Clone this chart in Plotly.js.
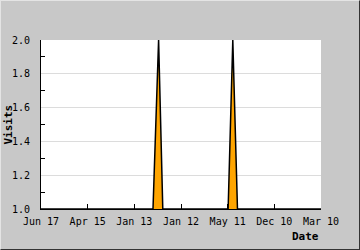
<!DOCTYPE html>
<html>
<head>
<meta charset="utf-8">
<script src="https://cdn.plot.ly/plotly-3.0.1.min.js"></script>
<style>
html, body { margin: 0; padding: 0; background: #c8c8c8; }
#wrap { position: relative; width: 360px; height: 250px; }
#chart { width: 360px; height: 250px; }
#frame { position: absolute; left: 0; top: 0; width: 360px; height: 250px; box-sizing: border-box;
  border-top: 1px solid #e4e4e4; border-left: 1px solid #e4e4e4;
  border-bottom: 1px solid #333; border-right: 1px solid #333; pointer-events: none; }
</style>
</head>
<body>
<div id="wrap"><div id="chart"></div><div id="frame"></div></div>
<script>
// Tick labels (dates) along the x axis, in axis order
var dateLabels = ['Jun 17', 'Apr 15', 'Jan 13', 'Jan 12', 'May 11', 'Dec 10', 'Mar 10'];
var datePos = [0, 1, 2, 3, 4, 5, 6];
// Visits series (x in date-axis units)
var xVals = [0, 2.40, 2.52, 2.61, 4.01, 4.11, 4.21, 6];
var visits = [1, 1, 2, 1, 1, 2, 1, 1];

var mono = 'DejaVu Sans Mono, monospace';

var trace = {
  x: xVals,
  y: visits,
  type: 'scatter',
  mode: 'lines',
  fill: 'tozeroy',
  fillcolor: '#ffa500',
  line: { color: '#000000', width: 1.5 },
  hoverinfo: 'none'
};

var layout = {
  width: 360,
  height: 250,
  paper_bgcolor: '#c8c8c8',
  plot_bgcolor: '#ffffff',
  margin: { l: 41, r: 39, t: 40, b: 41, pad: 0 },
  showlegend: false,
  font: { family: mono, size: 10, color: '#000' },
  xaxis: {
    range: [0, 6],
    tickmode: 'array',
    tickvals: datePos,
    ticktext: dateLabels,
    ticks: 'inside',
    ticklen: 5,
    tickcolor: '#000',
    showgrid: false,
    zeroline: false,
    showline: true,
    linecolor: '#000',
    linewidth: 1,
    tickfont: { family: mono, size: 10, color: '#000' },
    ticklabelstandoff: 3
  },
  yaxis: {
    range: [1, 2],
    tickmode: 'linear',
    tick0: 1,
    dtick: 0.2,
    tickformat: '.1f',
    ticks: '',
    showgrid: true,
    gridcolor: '#dcdcdc',
    gridwidth: 1,
    zeroline: false,
    showline: true,
    linecolor: '#000',
    linewidth: 1,
    tickfont: { family: mono, size: 10, color: '#000' },
    ticklabelstandoff: 8,
    minor: { ticks: 'inside', dtick: 0.1, ticklen: 4, tickcolor: '#000', showgrid: false }
  },
  annotations: [
    { text: '<b>Date</b>', xref: 'paper', yref: 'paper', x: 1, y: 0, xanchor: 'right', yanchor: 'top',
      yshift: -19, showarrow: false, font: { family: mono, size: 11, color: '#000' } },
    { text: '<b>Visits</b>', xref: 'paper', yref: 'paper', x: 0, y: 0.5, xanchor: 'center', yanchor: 'middle',
      xshift: -33, textangle: -90, showarrow: false, font: { family: mono, size: 11, color: '#000' } }
  ]
};

Plotly.newPlot('chart', [trace], layout, { staticPlot: true, displayModeBar: false });
</script>
</body>
</html>
